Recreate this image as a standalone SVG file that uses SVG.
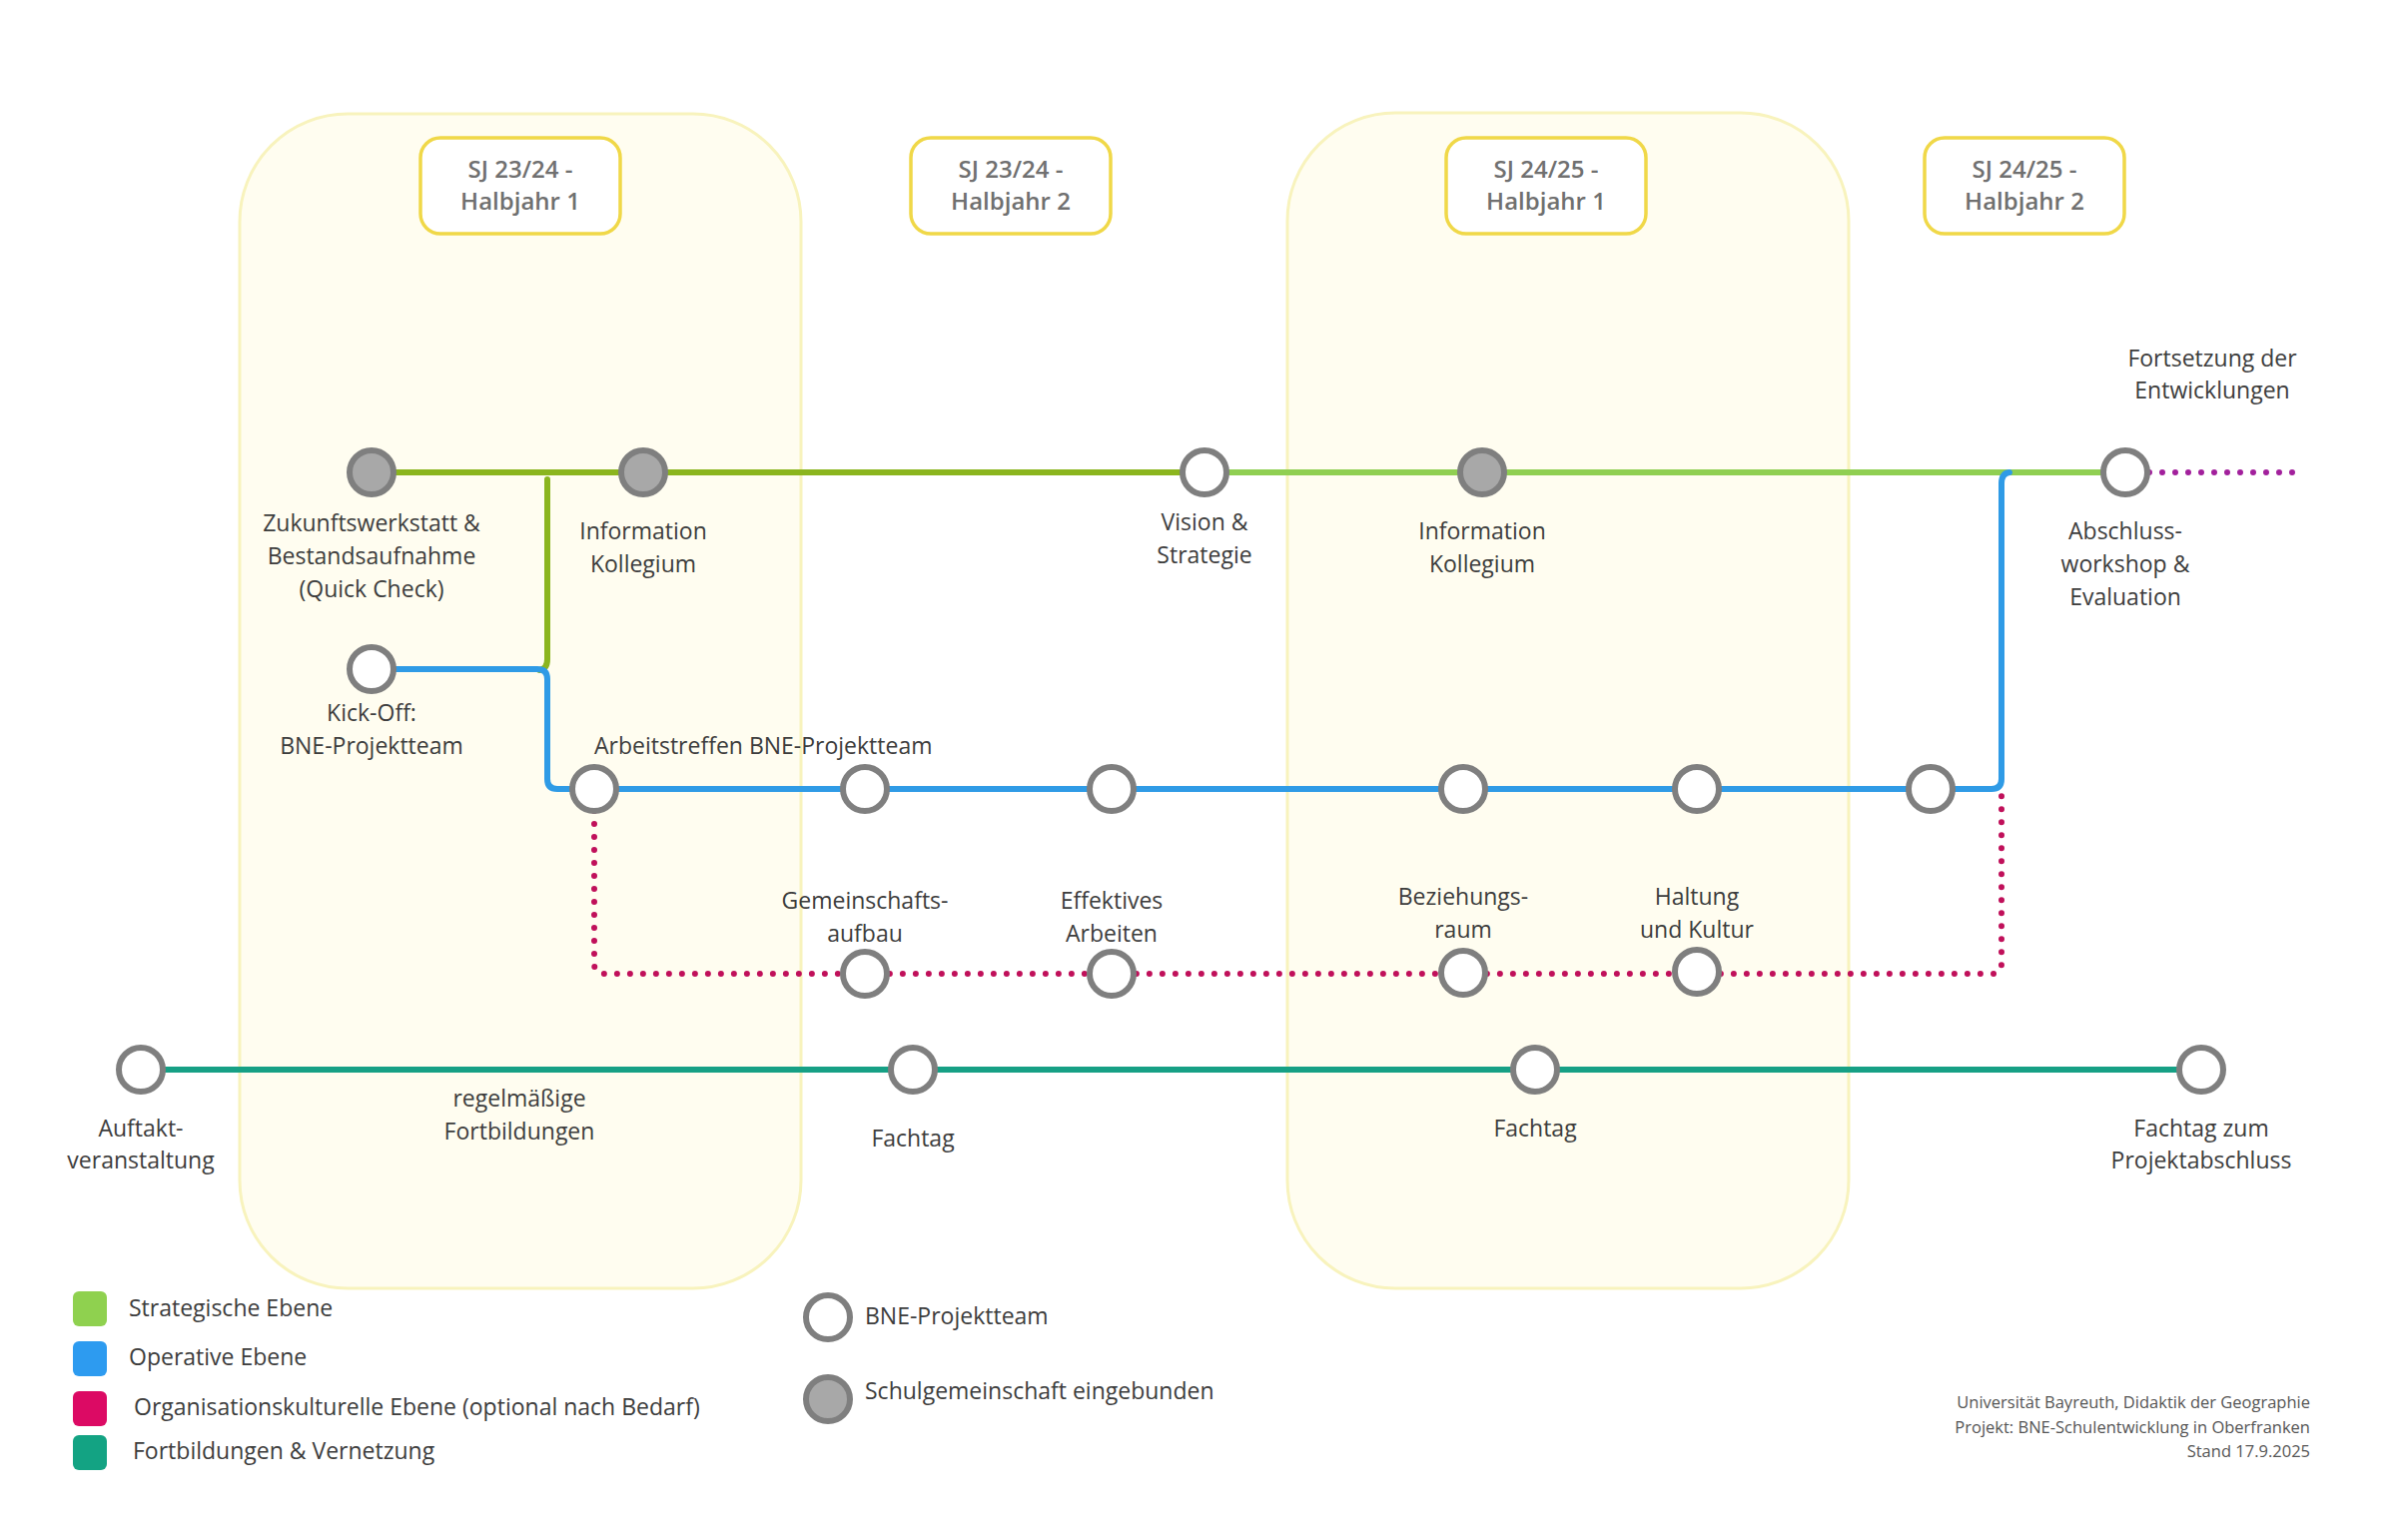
<svg xmlns="http://www.w3.org/2000/svg" width="2400" height="1542" viewBox="0 0 2400 1542">
<style>
text{font-family:"Open Sans","Liberation Sans",sans-serif;fill:#3d3d3d;font-size:23px}
.lbl{text-anchor:middle}
.hdr{text-anchor:middle;font-weight:600;fill:#707070;font-size:24px}
.hbox{fill:#ffffff;stroke:#f0d848;stroke-width:3.5}
.panel{fill:#fffdf0;stroke:#f8f3bd;stroke-width:3}
.open{fill:#ffffff;stroke:#7f7f7f;stroke-width:6}
.full{fill:#a8a8a8;stroke:#7f7f7f;stroke-width:6}
.ln{fill:none;stroke-width:6;stroke-linecap:round;stroke-linejoin:round}
.dot{fill:none;stroke-width:6;stroke-linecap:round;stroke-dasharray:0 13}
.foot{font-size:16.5px;fill:#555;text-anchor:end}
</style>
<rect width="2400" height="1542" fill="#ffffff"/>
<g id="panels">
<rect class="panel" x="240" y="114" width="562" height="1176" rx="108"/>
<rect class="panel" x="1289" y="113" width="562" height="1177" rx="108"/>
</g>
<g id="header-sj2324-h1"><rect class="hbox" x="421" y="138" width="200" height="96" rx="20"/><text class="hdr" x="521" y="178">SJ 23/24 -</text><text class="hdr" x="521" y="210">Halbjahr 1</text></g>
<g id="header-sj2324-h2"><rect class="hbox" x="912" y="138" width="200" height="96" rx="20"/><text class="hdr" x="1012" y="178">SJ 23/24 -</text><text class="hdr" x="1012" y="210">Halbjahr 2</text></g>
<g id="header-sj2425-h1"><rect class="hbox" x="1448" y="138" width="200" height="96" rx="20"/><text class="hdr" x="1548" y="178">SJ 24/25 -</text><text class="hdr" x="1548" y="210">Halbjahr 1</text></g>
<g id="header-sj2425-h2"><rect class="hbox" x="1927" y="138" width="200" height="96" rx="20"/><text class="hdr" x="2027" y="178">SJ 24/25 -</text><text class="hdr" x="2027" y="210">Halbjahr 2</text></g>

<g id="connectors">
<path class="dot" d="M595,812 V965 Q595,975 605,975 H1994 Q2004,975 2004,965 V796" stroke="#c0105a"/>
<path class="dot" d="M2152,473 H2308" stroke="#a2209c"/>
<path class="ln" d="M1206,473 H2128" stroke="#90cf52"/>
<path class="ln" d="M372,473 H1206" stroke="#8bb51e"/>
<path class="ln" d="M548,480 V660 Q548,670 540,671" stroke="#8bb51e"/>
<path class="ln" d="M372,670 H538 Q548,670 548,680 V780 Q548,790 558,790 H1994 Q2004,790 2004,780 V484 Q2004,474 2012,473" stroke="#2f9be6"/>
<path class="ln" d="M141,1071 H2204" stroke="#16a085"/>
</g>

<g id="n-zukunftswerkstatt"><circle class="full" cx="372" cy="473" r="22"/><text class="lbl" x="372" y="532">Zukunftswerkstatt &amp;</text><text class="lbl" x="372" y="565">Bestandsaufnahme</text><text class="lbl" x="372" y="598">(Quick Check)</text></g>
<g id="n-info1"><circle class="full" cx="644" cy="473" r="22"/><text class="lbl" x="644" y="540">Information</text><text class="lbl" x="644" y="573">Kollegium</text></g>
<g id="n-vision"><circle class="open" cx="1206" cy="473" r="22"/><text class="lbl" x="1206" y="531">Vision &amp;</text><text class="lbl" x="1206" y="564">Strategie</text></g>
<g id="n-info2"><circle class="full" cx="1484" cy="473" r="22"/><text class="lbl" x="1484" y="540">Information</text><text class="lbl" x="1484" y="573">Kollegium</text></g>
<g id="n-abschluss"><circle class="open" cx="2128" cy="473" r="22"/><text class="lbl" x="2128" y="540">Abschluss-</text><text class="lbl" x="2128" y="573">workshop &amp;</text><text class="lbl" x="2128" y="606">Evaluation</text></g>
<g id="n-fortsetzung"><text class="lbl" x="2215" y="367">Fortsetzung der</text><text class="lbl" x="2215" y="399">Entwicklungen</text></g>

<g id="n-kickoff"><circle class="open" cx="372" cy="670" r="22"/><text class="lbl" x="372" y="722">Kick-Off:</text><text class="lbl" x="372" y="755">BNE-Projektteam</text></g>
<g id="n-at1"><circle class="open" cx="595" cy="790" r="22"/><text x="595" y="755">Arbeitstreffen BNE-Projektteam</text></g>
<g id="n-at2"><circle class="open" cx="866" cy="790" r="22"/></g>
<g id="n-at3"><circle class="open" cx="1113" cy="790" r="22"/></g>
<g id="n-at4"><circle class="open" cx="1465" cy="790" r="22"/></g>
<g id="n-at5"><circle class="open" cx="1699" cy="790" r="22"/></g>
<g id="n-at6"><circle class="open" cx="1933" cy="790" r="22"/></g>

<g id="n-gemeinschaft"><circle class="open" cx="866" cy="975" r="22"/><text class="lbl" x="866" y="910">Gemeinschafts-</text><text class="lbl" x="866" y="943">aufbau</text></g>
<g id="n-effektiv"><circle class="open" cx="1113" cy="975" r="22"/><text class="lbl" x="1113" y="910">Effektives</text><text class="lbl" x="1113" y="943">Arbeiten</text></g>
<g id="n-beziehung"><circle class="open" cx="1465" cy="974" r="22"/><text class="lbl" x="1465" y="906">Beziehungs-</text><text class="lbl" x="1465" y="939">raum</text></g>
<g id="n-haltung"><circle class="open" cx="1699" cy="973" r="22"/><text class="lbl" x="1699" y="906">Haltung</text><text class="lbl" x="1699" y="939">und Kultur</text></g>

<g id="n-auftakt"><circle class="open" cx="141" cy="1071" r="22"/><text class="lbl" x="141" y="1138">Auftakt-</text><text class="lbl" x="141" y="1170">veranstaltung</text></g>
<g id="n-regelmaessig"><text class="lbl" x="520" y="1108">regelmäßige</text><text class="lbl" x="520" y="1141">Fortbildungen</text></g>
<g id="n-fachtag1"><circle class="open" cx="914" cy="1071" r="22"/><text class="lbl" x="914" y="1148">Fachtag</text></g>
<g id="n-fachtag2"><circle class="open" cx="1537" cy="1071" r="22"/><text class="lbl" x="1537" y="1138">Fachtag</text></g>
<g id="n-fachtag3"><circle class="open" cx="2204" cy="1071" r="22"/><text class="lbl" x="2204" y="1138">Fachtag zum</text><text class="lbl" x="2204" y="1170">Projektabschluss</text></g>

<g id="legend">
<rect x="73" y="1293" width="34" height="35" rx="6" fill="#8fd14f"/>
<text x="129" y="1318">Strategische Ebene</text>
<rect x="73" y="1343" width="34" height="35" rx="6" fill="#2d9bf0"/>
<text x="129" y="1367">Operative Ebene</text>
<rect x="73" y="1393" width="34" height="35" rx="6" fill="#dc0a64"/>
<text x="134" y="1417">Organisationskulturelle Ebene (optional nach Bedarf)</text>
<rect x="73" y="1437" width="34" height="35" rx="6" fill="#13a383"/>
<text x="133" y="1461">Fortbildungen &amp; Vernetzung</text>
<circle class="open" cx="829" cy="1319" r="22"/>
<text x="866" y="1326">BNE-Projektteam</text>
<circle class="full" cx="829" cy="1401" r="22"/>
<text x="866" y="1401">Schulgemeinschaft eingebunden</text>
</g>
<g id="footer">
<text class="foot" x="2313" y="1410">Universität Bayreuth, Didaktik der Geographie</text>
<text class="foot" x="2313" y="1435">Projekt: BNE-Schulentwicklung in Oberfranken</text>
<text class="foot" x="2313" y="1459">Stand 17.9.2025</text>
</g>
</svg>
